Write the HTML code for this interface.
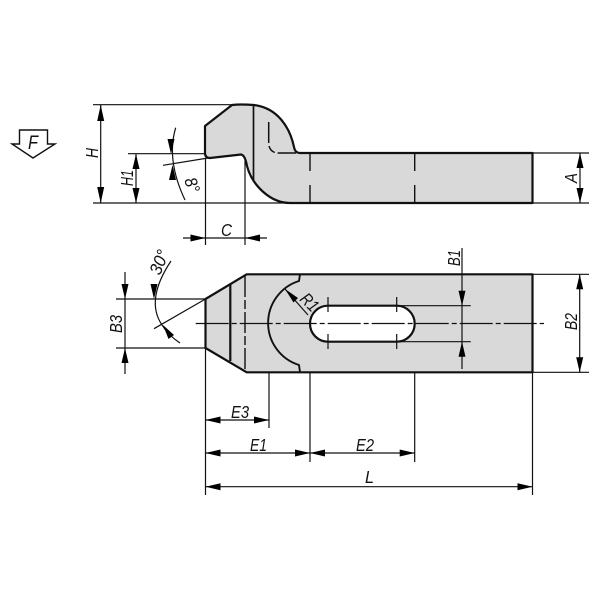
<!DOCTYPE html>
<html><head><meta charset="utf-8"><style>
html,body{margin:0;padding:0;background:#fff}
svg{display:block;filter:blur(0.35px)}
text{font-family:"Liberation Sans",sans-serif;font-style:italic;font-size:17.500px;fill:#111}
.m{fill:none;stroke:#111;stroke-width:2.200;stroke-linejoin:round}
.t{fill:none;stroke:#111;stroke-width:1.200}
.a{fill:#000;stroke:none}
</style></head><body>
<svg width="600" height="600" viewBox="0 0 600 600" xmlns="http://www.w3.org/2000/svg">
<rect width="600" height="600" fill="#fff"/>
<!-- F arrow -->
<path class="t" d="M19.500,130H47.500V144H55L33,158L12,144H19.500Z" style="stroke-width:1.400"/>
<text x="28" y="149" textLength="10" lengthAdjust="spacingAndGlyphs" style="font-size:19px">F</text>

<!-- side view -->
<path d="M205,126L232,105Q240,104 254,105C278,108 290,128 294,147Q295,153 300,153H532.500V203H290C270,203 252,185 247,166Q245,155 241,154.500L210,158Q205,158 205,153Z" fill="#d9d9d9"/>
<path class="m" d="M205,153V126L232,105Q240,104 254,105C278,108 290,128 294,147Q295,153 300,153H532.500V203H290C270,203 252,185 247,166Q245,155 241,154.500L210,158Q205,158 205,153"/>
<path class="m" d="M253.500,105V180" style="stroke-width:1.700"/>
<path class="t" d="M268.700,122V143Q269,153 279,153H296" stroke-dasharray="21 3 9 3" style="stroke-width:1.500"/>
<path class="t" d="M310,153V171M310,185V203M414.700,153V171M414.700,185V203" style="stroke-width:1.400"/>
<!-- side dims -->
<path class="t" d="M93,104.700H232M93,203H290M128,153.700H205M533,153H589M533,203H589"/>
<path class="t" d="M100.700,105V203M136,154V203M580,153V203"/>
<path class="a" d="M100.700,105l-3.500,16h7zM100.700,203l-3.500,-16h7zM136,154l-3.500,15h7zM136,203l-3.500,-15h7zM580,153l-3.500,15h7zM580,203l-3.500,-15h7z"/>
<path class="t" d="M205.500,158V245M245,160V245M183,238H267"/>
<path class="a" d="M205.500,238l-15,-3.500v7zM245,238l15,-3.500v7z"/>
<path class="t" d="M175.700,127.700Q166,160 185,200M163,165.300L208,158"/>
<path class="a" d="M171,154l-3.500,-15h7zM172.500,165l-3.500,15h7z"/>
<text transform="translate(98,158) rotate(-90)" textLength="10" lengthAdjust="spacingAndGlyphs">H</text>
<text transform="translate(133,186) rotate(-90)" textLength="16" lengthAdjust="spacingAndGlyphs">H1</text>
<text transform="translate(577,183) rotate(-90)" textLength="10" lengthAdjust="spacingAndGlyphs">A</text>
<text x="221" y="236" textLength="11" lengthAdjust="spacingAndGlyphs">C</text>
<text transform="translate(184,180) rotate(70)" textLength="15" lengthAdjust="spacingAndGlyphs">8°</text>

<!-- plan view -->
<path d="M205.500,299L246.700,274.300H532.500V372.300H246.700L205.500,348Z" fill="#d9d9d9"/>
<rect x="310" y="305.700" width="104.700" height="36" rx="18" ry="18" fill="#fff"/>
<path class="m" d="M205.500,299L246.700,274.300H532.500V372.300H246.700L205.500,348Z"/>
<path class="m" d="M230.300,284V361"/>
<path class="m" d="M300,274.300L299,281A44,44 0 0 0 299,365L300,372.300" style="stroke-width:1.900"/>
<rect class="m" x="310" y="305.700" width="104.700" height="36" rx="18" ry="18"/>
<path class="t" d="M245,276V371" stroke-dasharray="21 3 9 3" style="stroke-width:1.400"/>
<path class="t" d="M195.700,323.500H544" stroke-dasharray="33 3 5 3" style="stroke-width:1.300"/>
<path class="t" d="M328,297V312M328,334V349M396.700,297V312M396.700,334V349"/>
<!-- plan dims -->
<path class="t" d="M396,305.700H470.700M396,341.700H470.700M462,248V369M533,274.300H589M533,372.300H589M579.700,274.300V372.300"/>
<path class="a" d="M462,305.700l-3.500,-15h7zM462,341.700l-3.500,15h7zM579.700,274.300l-3.500,15h7zM579.700,372.300l-3.500,-15h7z"/>
<path class="t" d="M116,299H205M116,348H205M125,272V374"/>
<path class="a" d="M125,299l-3.500,-15h7zM125,348l-3.500,15h7z"/>
<path class="t" d="M171,261Q145,300 162,325Q168,335 180,343M205.500,299L154,328.700"/>
<path class="a" d="M154,299l-3.500,-15h7zM163,325l5.500,14l5.500,-4z"/>
<path class="t" d="M285,289L308,315"/>
<path class="a" d="M285,289l13,9l-4.500,4.500z"/>
<text transform="translate(122,333) rotate(-90)" textLength="18" lengthAdjust="spacingAndGlyphs">B3</text>
<text transform="translate(460,266) rotate(-90)" textLength="16" lengthAdjust="spacingAndGlyphs">B1</text>
<text transform="translate(577,330) rotate(-90)" textLength="17" lengthAdjust="spacingAndGlyphs">B2</text>
<text transform="translate(160,276) rotate(-68)" textLength="25" lengthAdjust="spacingAndGlyphs">30°</text>
<text transform="translate(299,300) rotate(45)" textLength="18" lengthAdjust="spacingAndGlyphs">R1</text>

<!-- bottom dims -->
<path class="t" d="M205.500,348V495M532.500,372V495M269,372V428M310,372V462M414.700,372V462"/>
<path class="t" d="M205.500,420H269M205.500,453H414.700M205.500,486.700H532.500"/>
<path class="a" d="M205.500,420l15,-3.500v7zM269,420l-15,-3.500v7zM205.500,453l15,-3.500v7zM310,453l-15,-3.500v7zM310,453l15,-3.500v7zM414.700,453l-15,-3.500v7zM205.500,486.700l15,-3.500v7zM532.500,486.700l-15,-3.500v7z"/>
<text x="231" y="418" textLength="18" lengthAdjust="spacingAndGlyphs">E3</text>
<text x="250" y="451" textLength="17" lengthAdjust="spacingAndGlyphs">E1</text>
<text x="356" y="451" textLength="18" lengthAdjust="spacingAndGlyphs">E2</text>
<text x="365" y="483" textLength="9" lengthAdjust="spacingAndGlyphs">L</text>
</svg>
</body></html>
